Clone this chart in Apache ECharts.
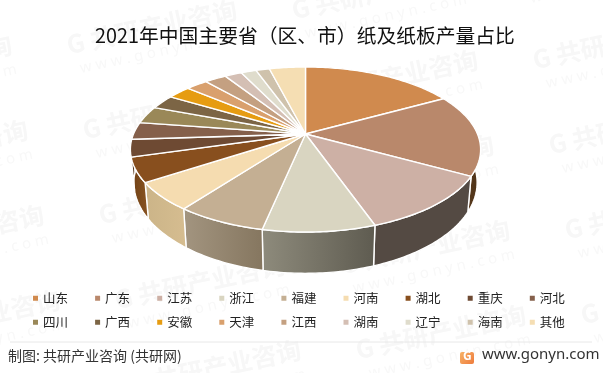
<!DOCTYPE html>
<html><head><meta charset="utf-8">
<style>html,body{margin:0;padding:0;background:#fff}#c{width:603px;height:373px}</style>
<script src="https://cdn.jsdelivr.net/npm/echarts@6/dist/echarts.min.js"></script>
</head><body><div id="c"></div>
<script>
var provinces = ['山东','广东','江苏','浙江','福建','河南','湖北','重庆','河北','四川','广西','安徽','天津','江西','湖南','辽宁','海南','其他'];
var shares = [17,16.1,11.6,8.7,7,5.5,4.8,3.4,3.4,3.4,2.8,2.6,2.4,2.4,1.9,1.7,1.5,4];
var topColors = ['#D08A4E','#B9886B','#CDB0A5','#D9D5C1','#C4AF93','#F5DCB0','#884F1E','#6E4A33','#85604B','#9A8858','#7C6545','#E69C12','#D9A06D','#C4A081','#D4BFB4','#DFDCCC','#CFC2AC','#F5DEB3'];
var wallStart = ['#6b4a2a','#6a4524','#544A43','#8E8B7C','#A39580','#CBB488','#6E3F14','#5a3a20','#6a4c3a','#7c6d46','#635138','#b87d0e','#ad8057','#9d8067','#aa9990','#b3b0a3','#a69b8a','#c4b28f'];
var wallEnd = ['#5a3a20','#4d3218','#544A43','#5E5B50','#85765F','#D6BD90','#8A5523','#5a3a20','#6a4c3a','#7c6d46','#635138','#b87d0e','#ad8057','#9d8067','#aa9990','#b3b0a3','#a69b8a','#c4b28f'];
var titleText = '2021年中国主要省（区、市）纸及纸板产量占比';
var sourceText = '制图: 共研产业咨询 (共研网)';
var siteText = 'www.gonyn.com';

var total = shares.reduce(function(a,b){return a+b;},0);
var CX=305.5, CY=134, A=172, B=79.6, P=0.188, DROP=31.5, QX=0.98, QY=1.1;
function topPoint(deg){
  var t=deg*Math.PI/180, u=Math.cos(t), s=Math.sin(t), w=1+P*u;
  return [A*s/w, -B*u/w];
}
function sliceAngles(i){
  var before=0; for(var k=0;k<i;k++) before+=shares[k];
  return [before/total*360,(before+shares[i])/total*360];
}
function makeRender(i){
  return function(){
    var ang=sliceAngles(i), rim=[], low=[];
    var n=Math.max(2,Math.ceil(ang[1]-ang[0]));
    for(var k=0;k<=n;k++){
      var p=topPoint(ang[0]+(ang[1]-ang[0])*k/n);
      rim.push([CX+p[0],CY+p[1]]);
      low.push([CX+p[0]*QX,CY+DROP+p[1]*QY]);
    }
    return {type:'group',children:[
      {type:'polygon',z2:1,silent:true,shape:{points:rim.concat(low.slice().reverse())},
       style:{fill:{type:'linear',x:0,y:0,x2:1,y2:0,colorStops:[{offset:0,color:wallStart[i]},{offset:1,color:wallEnd[i]}]},stroke:'#fff',lineWidth:1.4}},
      {type:'polygon',z2:5,silent:true,shape:{points:[[CX,CY]].concat(rim)},
       style:{fill:topColors[i],stroke:'#fff',lineWidth:1.4,lineJoin:'round'}}
    ]};
  };
}
var series=provinces.map(function(name,i){
  return {type:'custom',name:name,coordinateSystem:'none',silent:true,animation:false,
    itemStyle:{color:topColors[i]},renderItem:makeRender(i),data:[{name:name,value:shares[i]}]};
});
function legendRow(names,top){
  return {data:names,left:33,top:top,orient:'horizontal',icon:'rect',itemWidth:5,itemHeight:5,itemGap:27.1,padding:0,
    selectedMode:false,textStyle:{fontFamily:'Noto Sans CJK SC',fontSize:12.5,color:'#222'}};
}
var wmCN='共研产业咨询', wmEN='w w w . g o n y n . c o m';
var graphics=[];
for(var i=-1;i<=3;i++){ for(var j=-1;j<=5;j++){
  var wx=67+225*i+16*j, wy=45-35*i+85*j;
  if(wx<-190||wx>610||wy<-40||wy>410) continue;
  graphics.push({type:'group',x:wx,y:wy,rotation:12*Math.PI/180,z:-1,silent:true,children:[
    {type:'text',x:0,y:0,style:{text:'G '+wmCN,font:'bold 25px "Noto Sans CJK SC"',fill:'#f7f7f7',verticalAlign:'middle'}},
    {type:'text',x:8,y:26,style:{text:wmEN,font:'15px "Noto Sans"',fill:'#f8f8f8',verticalAlign:'middle'}}
  ]});
}}
graphics.push(
  {type:'line',shape:{x1:10,y1:342,x2:592,y2:342},style:{stroke:'#e8e8e8',lineWidth:1},z:1},
  {type:'text',x:8,y:349,z:1,style:{text:sourceText,font:'14px "Noto Sans CJK SC"',fill:'#333'}},
  {type:'rect',x:460,y:352,shape:{width:14,height:12,r:2},z:1,style:{fill:{type:'linear',x:0,y:0,x2:1,y2:1,colorStops:[{offset:0,color:'#F7B267'},{offset:1,color:'#EE7B3C'}]}}},
  {type:'text',x:463,y:351,z:2,style:{text:'G',font:'bold 12px "Noto Sans"',fill:'#fff'}},
  {type:'text',x:482,y:347,z:1,style:{text:siteText,font:'15px "Noto Sans"',fill:'#333'}}
);
var chart=echarts.init(document.getElementById('c'),null,{renderer:'canvas'});
chart.setOption({
  backgroundColor:'#fff',animation:false,color:topColors,
  title:{text:titleText,left:300,top:21,textAlign:'center',textStyle:{fontFamily:'Noto Sans CJK SC',fontSize:19.8,fontWeight:'normal',color:'#111'}},
  legend:[legendRow(provinces.slice(0,9),292),legendRow(provinces.slice(9),316)],
  graphic:graphics,
  series:series
});
</script></body></html>
